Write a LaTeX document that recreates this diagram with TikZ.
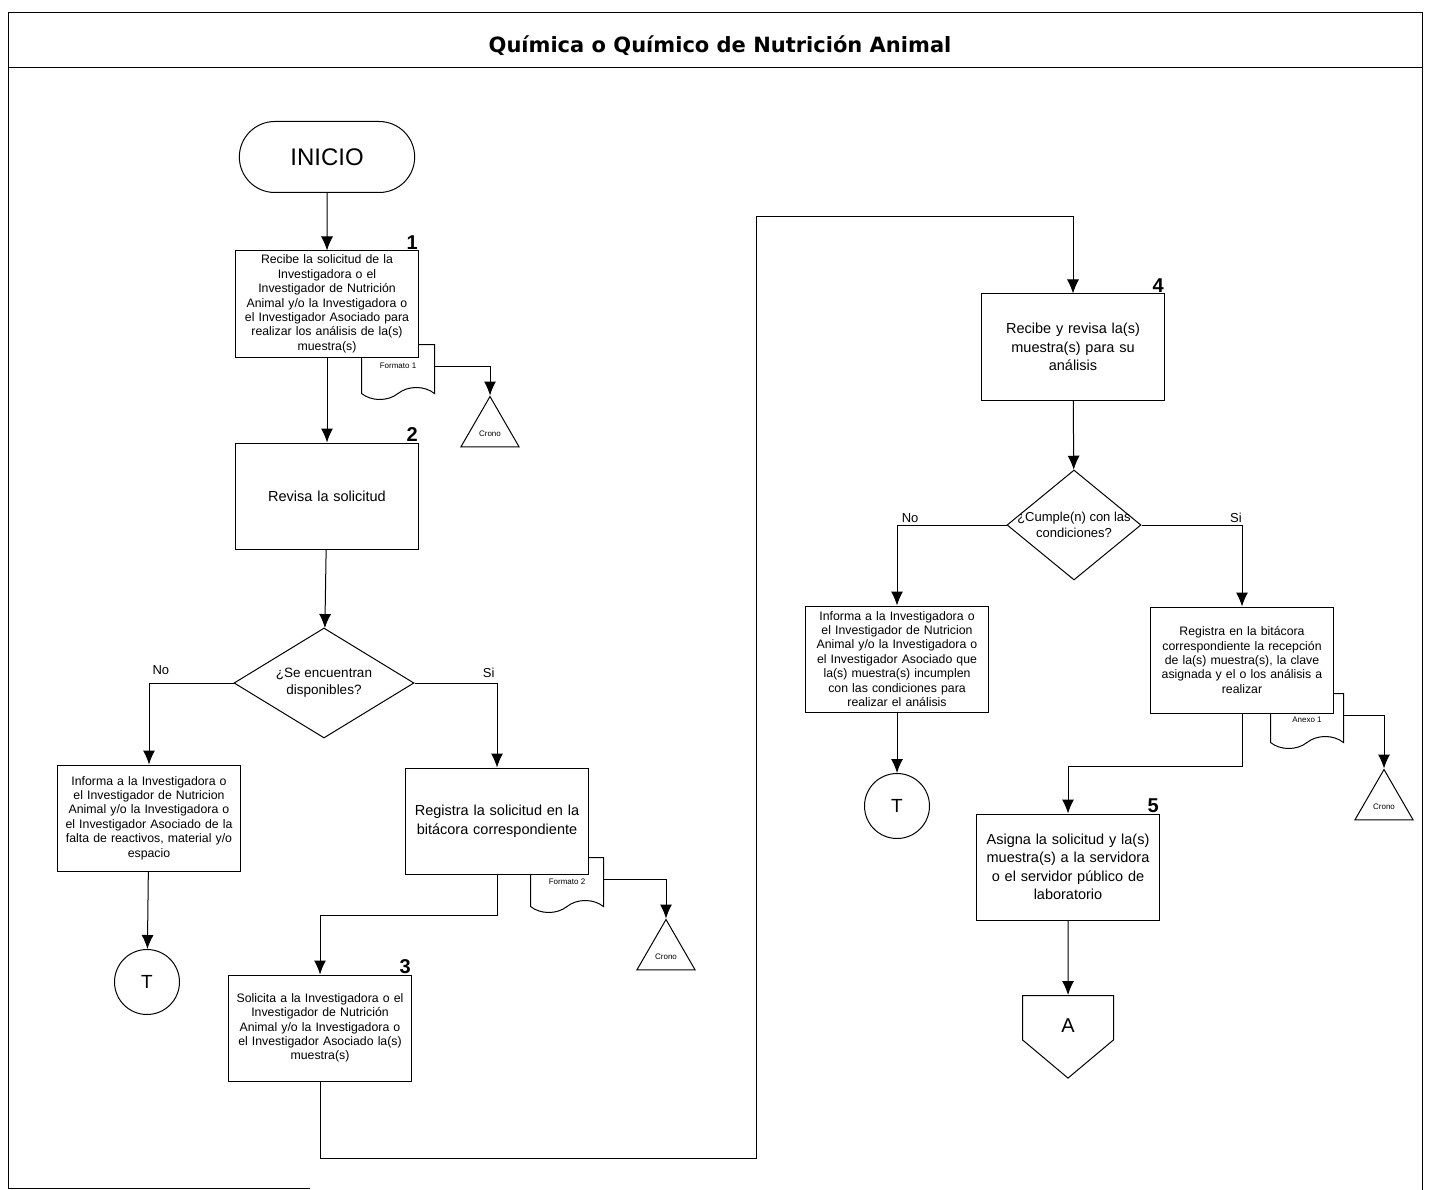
\documentclass[tikz,border=0pt]{standalone}
\usepackage{fontspec}
\setmainfont{Liberation Sans}
\newfontfamily\titlefont{DejaVu Sans}
\usetikzlibrary{shapes.geometric,shapes.symbols,shapes.misc,arrows.meta,positioning}

\begin{document}
\begin{tikzpicture}[x=1pt, y=-1pt,
    proc/.style={rectangle, draw, fill=white, line width=1pt, text width=179pt, align=center, minimum width=183pt, minimum height=106pt, inner sep=2pt, font=\fontsize{12.3}{14.4}\selectfont},
    procb/.style={proc, font=\fontsize{14.5}{18.5}\selectfont},
    dec/.style={diamond, draw, fill=white, line width=1pt, aspect=1.6, inner sep=0pt, align=center, font=\fontsize{13.5}{17}\selectfont},
    term/.style={rounded rectangle, draw, line width=1pt, minimum width=182pt, minimum height=71pt, font=\fontsize{24}{26}\selectfont},
    docu/.style={tape, draw, fill=white, line width=1pt, tape bend top=none, tape bend bottom=in and out, tape bend height=12pt, minimum width=73pt, minimum height=55pt, inner sep=1pt, font=\fontsize{8}{9}\selectfont},
    crono/.style={regular polygon, regular polygon sides=3, draw, line width=1pt, minimum size=67pt, inner sep=0pt, font=\fontsize{8}{9}\selectfont},
    conn/.style={circle, draw, line width=1pt, minimum size=65pt, inner sep=0pt, font=\fontsize{19}{22}\selectfont},
    offp/.style={signal, signal to=south, signal pointer angle=100, draw, line width=1pt, minimum width=91pt, minimum height=50pt, inner sep=0pt, font=\fontsize{20}{22}\selectfont},
    num/.style={font=\fontsize{20}{22}\selectfont\bfseries, inner sep=1pt},
    lbl/.style={font=\fontsize{13}{15}\selectfont, above, inner sep=5pt},
    ln/.style={line width=1pt},
    ar/.style={line width=1pt, -{Latex[length=14pt, width=12pt]}}]
    \useasboundingbox (0,0) rectangle (1440,1190);

    % marco y titulo
    \draw [ln] (8,13) -- (1422,13) -- (1422,1190);
    \draw [ln] (8,13) -- (8,1188) -- (310,1188);
    \draw [ln] (8,68) -- (1422,68);
    \node [font=\titlefont\bfseries\fontsize{21}{24}\selectfont] (titulo) at (720,46) {Química o Químico de Nutrición Animal};

    % documentos (debajo de los cuadros)
    \node [docu] (for1) at (398,366) {Formato 1};
    \node [docu] (for2) at (567,879) {\raisebox{-5pt}[0pt][0pt]{Formato 2}};
    \node [docu] (anx1) at (1307,715) {\raisebox{-7pt}[0pt][0pt]{Anexo 1}};

    % columna izquierda
    \node [term] (inicio) at (327,157) {INICIO};
    \node [proc] (rec) at (327,304) {Recibe la solicitud de la\\Investigadora o el\\Investigador de Nutrición\\Animal y/o la Investigadora o\\el Investigador Asociado para\\realizar los análisis de la(s)\\muestra(s)};
    \node [procb] (rev) at (327,496) {Revisa la solicitud};
    \node [dec, minimum width=180pt, minimum height=110pt] (disp) at (324,683) {¿Se encuentran\\disponibles?};
    \node [proc] (infa) at (149,818) {Informa a la Investigadora o\\el Investigador de Nutricion\\Animal y/o la Investigadora o\\el Investigador Asociado de la\\falta de reactivos, material y/o\\espacio};
    \node [conn] (fin1) at (147,982) {T};
    \node [procb] (regs) at (497,821) {Registra la solicitud en la\\bitácora correspondiente};
    \node [proc] (sol) at (320,1028) {Solicita a la Investigadora o el\\Investigador de Nutrición\\Animal y/o la Investigadora o\\el Investigador Asociado la(s)\\muestra(s)};
    \node [crono] (cro1) at (490,430) {\raisebox{-6pt}[0pt][0pt]{Crono}};
    \node [crono] (cro2) at (666,953) {\raisebox{-6pt}[0pt][0pt]{Crono}};

    % columna derecha
    \node [procb] (recm) at (1073,347) {Recibe y revisa la(s)\\muestra(s) para su\\análisis};
    \node [dec, minimum width=134pt, minimum height=110pt, inner xsep=-24pt, font=\fontsize{13}{16.5}\selectfont] (cump) at (1074,525) {¿Cumple(n) con las\\condiciones?};
    \node [proc] (infb) at (897,659) {Informa a la Investigadora o\\el Investigador de Nutricion\\Animal y/o la Investigadora o\\el Investigador Asociado que\\la(s) muestra(s) incumplen\\con las condiciones para\\realizar el análisis};
    \node [conn] (fin2) at (897,806) {T};
    \node [proc] (regm) at (1242,660) {Registra en la bitácora\\correspondiente la recepción\\de la(s) muestra(s), la clave\\asignada y el o los análisis a\\realizar};
    \node [procb] (asig) at (1068,867) {Asigna la solicitud y la(s)\\muestra(s) a la servidora\\o el servidor público de\\laboratorio};
    \node [offp, anchor=north] (pagA) at (1068,995) {\raisebox{-15pt}[0pt][0pt]{A}};
    \node [crono] (cro3) at (1384,803) {\raisebox{-6pt}[0pt][0pt]{Crono}};

    % numeros de actividad
    \node [num, above left=0pt of rec.north east] (n1) {1};
    \node [num, above left=0pt of rev.north east] (n2) {2};
    \node [num, above left=0pt of sol.north east] (n3) {3};
    \node [num, above left=0pt of recm.north east] (n4) {4};
    \node [num, above left=0pt of asig.north east] (n5) {5};

    \coordinate (c1) at (756,1158);
    \coordinate (c2) at (756,217);

    % conectores
    \draw [ar] (inicio) -- (rec);
    \draw [ar] (rec) -- (rev);
    \draw [ar] (rev) -- (disp);
    \draw [ar] (disp.west) -| node[lbl, pos=0.43, inner sep=8pt]{No} (infa.north);
    \draw [ar] (disp.east) -| node[lbl, pos=0.45]{Si} (regs.north);
    \draw [ar] (infa) -- (fin1);
    \draw [ar] (for1.east) -| (cro1.corner 1);
    \draw [ar] (for2.east) -| (cro2.corner 1);
    \draw [ar] (regs.south) -- ++(0,41) -| (sol.north);
    \draw [ar] (sol.south) |- (c1) -- (c2) -| (recm.north);
    \draw [ar] (recm) -- (cump);
    \draw [ar] (cump.west) -| node[lbl, pos=0.44, inner sep=2pt]{No} (infb.north);
    \draw [ar] (cump.east) -| node[lbl, pos=0.47, inner sep=2pt]{Si} (regm.north);
    \draw [ar] (infb) -- (fin2);
    \draw [ar] (anx1.east) -| (cro3.corner 1);
    \draw [ar] (regm.south) -- ++(0,53) -| (asig.north);
    \draw [ar] (asig) -- (pagA);
\end{tikzpicture}
\end{document}
